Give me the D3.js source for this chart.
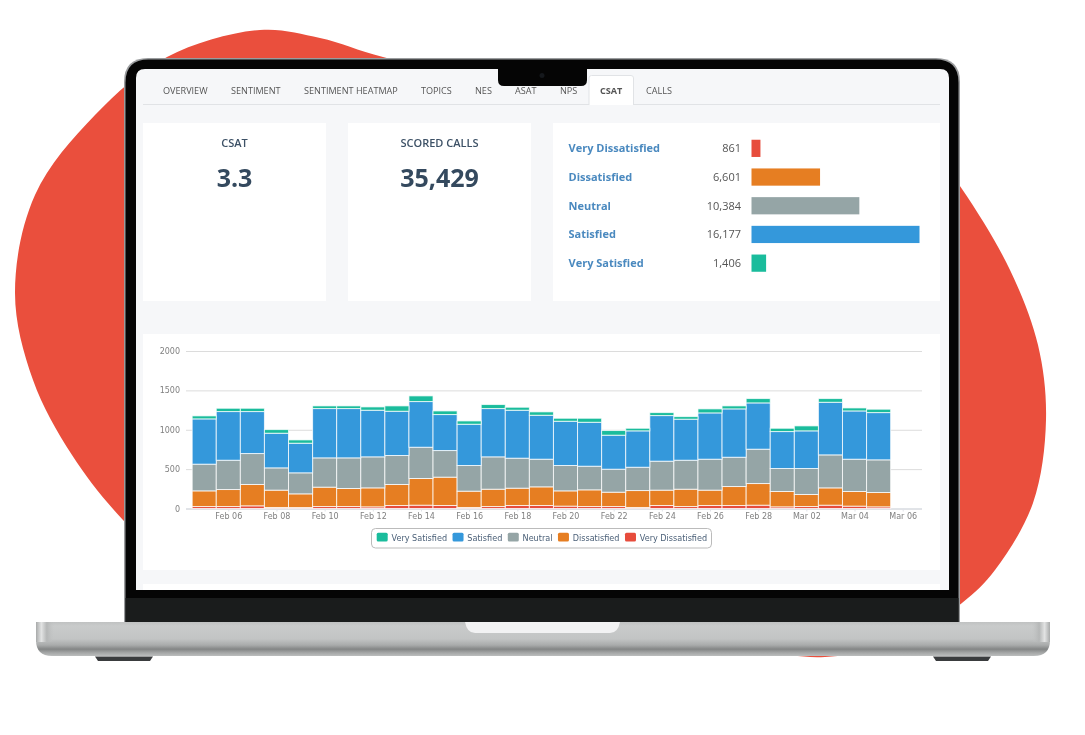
<!DOCTYPE html>
<html>
<head>
<meta charset="utf-8">
<script src="https://cdn.jsdelivr.net/npm/d3@7"></script>
<style>
  body { margin: 0; background: #fff; }
  svg { display: block; font-family: "Open Sans", sans-serif; }
</style>
</head>
<body>
<div id="chart"></div>
<script>
// Daily CSAT counts
const days = ["2023-02-05","2023-02-06","2023-02-07","2023-02-08","2023-02-09","2023-02-10","2023-02-11","2023-02-12","2023-02-13","2023-02-14","2023-02-15","2023-02-16","2023-02-17","2023-02-18","2023-02-19","2023-02-20","2023-02-21","2023-02-22","2023-02-23","2023-02-24","2023-02-25","2023-02-26","2023-02-27","2023-02-28","2023-03-01","2023-03-02","2023-03-03","2023-03-04","2023-03-05"];
const veryDissatisfied = [25,25,34,13,12,25,25,21,38,42,38,13,25,38,38,30,25,25,13,38,25,38,38,42,21,25,42,30,21];
const dissatisfied = [199,216,271,220,174,246,229,241,267,339,360,207,220,220,237,194,212,182,215,195,220,195,241,275,195,153,220,186,182];
const neutral = [339,372,393,283,267,372,389,394,368,397,338,326,411,381,351,322,300,292,296,368,368,393,372,436,292,330,419,410,415];
const satisfied = [575,618,533,440,376,626,626,592,562,580,457,524,613,609,558,562,558,432,462,579,521,588,614,588,469,478,668,613,600];
const verySatisfied = [38,42,42,46,42,34,34,42,68,72,46,42,51,38,43,38,51,59,33,38,33,51,38,55,42,63,47,38,43];

const xTicks = ["2023-02-06","2023-02-08","2023-02-10","2023-02-12","2023-02-14","2023-02-16","2023-02-18","2023-02-20","2023-02-22","2023-02-24","2023-02-26","2023-02-28","2023-03-02","2023-03-04","2023-03-06"];
const yTicks = [0, 500, 1000, 1500, 2000];

const summaryLabels = ["Very Dissatisfied", "Dissatisfied", "Neutral", "Satisfied", "Very Satisfied"];
const summaryValues = [861, 6601, 10384, 16177, 1406];
const summaryColors = ["#e74c3c", "#e67e22", "#95a5a6", "#3498db", "#1abc9c"];

const legendOrder = ["Very Satisfied", "Satisfied", "Neutral", "Dissatisfied", "Very Dissatisfied"];

const tabs = ["OVERVIEW", "SENTIMENT", "SENTIMENT HEATMAP", "TOPICS", "NES", "ASAT", "NPS", "CSAT", "CALLS"];
const tabStarts = [163, 231, 304, 421, 475, 515, 560, 600, 646];

// Outline of the red shape behind the laptop
const blobOutline = [[260,30],[320,38],[383,57],[520,85],[750,85],[905,115],[962,189],[1010,270],[1038,345],[1046,420],[1033,503],[995,570],[962,603],[900,642],[825,657],[750,650],[450,620],[200,590],[123,520],[72,455],[33,380],[15,293],[35,195],[95,115],[167,57]];

const svg = d3.select("#chart").append("svg").attr("width", 1085).attr("height", 735);
const defs = svg.append("defs");

// the screen capture in the reference is a little soft
defs.append("filter").attr("id", "soft").attr("color-interpolation-filters", "sRGB")
  .append("feGaussianBlur").attr("stdDeviation", 0.4);

// red background
svg.append("path")
  .attr("d", d3.line().curve(d3.curveCatmullRomClosed.alpha(0.5))(blobOutline))
  .attr("fill", "#ea4f3d");

// Rounded-top box, used for lid and screen
function topRounded(x, y, w, h, r) {
  return `M${x},${y + h}V${y + r}Q${x},${y} ${x + r},${y}H${x + w - r}Q${x + w},${y} ${x + w},${y + r}V${y + h}Z`;
}

// laptop lid
svg.append("path").attr("d", topRounded(124, 58, 836, 566, 24)).attr("fill", "#9a9c9e");
svg.append("path").attr("d", topRounded(125.5, 59.5, 833, 564, 23)).attr("fill", "#050505");
svg.append("rect").attr("x", 125.5).attr("y", 598).attr("width", 833).attr("height", 24).attr("fill", "#1a1c1c");
svg.append("path").attr("d", topRounded(136, 69, 813, 521, 9)).attr("fill", "#f6f7f9");

const screen = svg.append("g").attr("filter", "url(#soft)");

// Panels
const cards = [[143, 123, 183, 178], [348, 123, 183, 178], [553, 123, 387, 178], [143, 334, 797, 236], [143, 584, 797, 6]];
screen.selectAll("rect.card").data(cards).join("rect")
  .attr("class", "card")
  .attr("x", d => d[0]).attr("y", d => d[1])
  .attr("width", d => d[2]).attr("height", d => d[3])
  .attr("fill", "#fff");

// Tabs
screen.append("line").attr("x1", 143).attr("x2", 940).attr("y1", 104.5).attr("y2", 104.5).attr("stroke", "#e1e3e6");
screen.append("path").attr("d", "M589,105V78Q589,75.5 591.5,75.5H631Q633.5,75.5 633.5,78V105")
  .attr("fill", "#fff").attr("stroke", "#e1e3e6");
screen.selectAll("text.tab").data(tabs).join("text")
  .attr("class", "tab")
  .attr("x", (d, i) => tabStarts[i])
  .attr("y", 94)
  .attr("font-size", 9.1)
  .attr("font-weight", d => d === "CSAT" ? 700 : 400)
  .attr("fill", "#555")
  .text(d => d);

// notch and camera
svg.append("path").attr("d", "M498,69H587V80Q587,86 581,86H504Q498,86 498,80Z").attr("fill", "#050505");
svg.append("circle").attr("cx", 542).attr("cy", 75.5).attr("r", 2.5).attr("fill", "#15181c");

// Headline numbers
const headline = [["CSAT", "3.3", 234.5], ["SCORED CALLS", "35,429", 439.5]];
headline.forEach(h => {
  screen.append("text").attr("x", h[2]).attr("y", 147).attr("text-anchor", "middle")
    .attr("font-size", 11).attr("font-weight", 600).attr("fill", "#3d5166").text(h[0]);
  screen.append("text").attr("x", h[2]).attr("y", 187).attr("text-anchor", "middle")
    .attr("font-size", 25).attr("font-weight", 700).attr("fill", "#34495e").text(h[1]);
});

// Summary bars
const sx = d3.scaleLinear().domain([0, d3.max(summaryValues)]).range([751.5, 919.5]);
const sy = d3.scaleBand().domain(summaryLabels).range([134, 277.5]).paddingInner(0.4).paddingOuter(0.2);
const row = screen.append("g").selectAll("g").data(summaryLabels).join("g");
row.append("text")
  .attr("x", 568.5)
  .attr("y", d => sy(d) + sy.bandwidth() / 2 + 4)
  .attr("font-size", 11).attr("font-weight", 700).attr("fill", "#4a89bf")
  .text(d => d);
row.append("text")
  .attr("x", 741)
  .attr("y", d => sy(d) + sy.bandwidth() / 2 + 4)
  .attr("text-anchor", "end")
  .attr("font-size", 11).attr("fill", "#555")
  .text((d, i) => d3.format(",")(summaryValues[i]));
row.append("rect")
  .attr("x", sx(0))
  .attr("y", d => sy(d))
  .attr("width", (d, i) => sx(summaryValues[i]) - sx(0))
  .attr("height", sy.bandwidth())
  .attr("fill", (d, i) => summaryColors[i]);

// Stacked chart
const parse = d3.utcParse("%Y-%m-%d");
const table = days.map((d, i) => ({
  date: parse(d),
  "Very Dissatisfied": veryDissatisfied[i],
  "Dissatisfied": dissatisfied[i],
  "Neutral": neutral[i],
  "Satisfied": satisfied[i],
  "Very Satisfied": verySatisfied[i],
}));

const plotLeft = 186, plotRight = 922;
const x = d3.scaleUtc().domain([parse("2023-02-06"), parse("2023-03-06")]).range([228.3, 902.7]);
const y = d3.scaleLinear().domain([0, 2000]).range([508.5, 351]);
const barWidth = x(parse("2023-02-07")) - x(parse("2023-02-06"));

// Y axis with gridlines
const yAxis = screen.append("g")
  .attr("transform", `translate(${plotLeft},0)`)
  .call(d3.axisLeft(y).tickValues(yTicks).tickFormat(d3.format("d")).tickSize(0).tickPadding(6));
yAxis.select(".domain").remove();
yAxis.selectAll("text").attr("font-family", "'DejaVu Sans'").attr("font-size", 8).attr("fill", "#808080");
yAxis.selectAll(".tick line").attr("x2", plotRight - plotLeft).attr("stroke", "#dcdcdc");

const xAxis = screen.append("g")
  .attr("transform", "translate(0,508.5)")
  .call(d3.axisBottom(x).tickValues(xTicks.map(parse)).tickFormat(d3.utcFormat("%b %d")).tickSize(3).tickPadding(2));
xAxis.select(".domain").attr("d", `M${plotLeft},0.5H${plotRight}`).attr("stroke", "#d5dae2");
xAxis.selectAll(".tick line").attr("stroke", "#e0e3e8");
xAxis.selectAll("text").attr("font-family", "'DejaVu Sans'").attr("font-size", 8).attr("fill", "#808080");

const stacked = d3.stack().keys(summaryLabels)(table);
screen.append("g").selectAll("g").data(stacked).join("g")
  .attr("fill", (d, i) => summaryColors[i])
  .selectAll("rect").data(d => d).join("rect")
  .attr("x", d => x(d.data.date) - barWidth / 2)
  .attr("y", d => y(d[1]))
  .attr("width", barWidth)
  .attr("height", d => y(d[0]) - y(d[1]))
  .attr("stroke", "#fff")
  .attr("stroke-opacity", 0.75)
  .attr("stroke-width", 1);

// Legend
const legend = screen.append("g");
legend.append("rect").attr("x", 371.5).attr("y", 528.5).attr("width", 340).attr("height", 19.5).attr("rx", 4)
  .attr("fill", "#fff").attr("stroke", "#bbb");
let legendX = 376.7;
legendOrder.forEach(name => {
  legend.append("rect").attr("x", legendX).attr("y", 532.7).attr("width", 11).attr("height", 8.7).attr("rx", 1.5)
    .attr("fill", summaryColors[summaryLabels.indexOf(name)]);
  const label = legend.append("text").attr("x", legendX + 14.8).attr("y", 541)
    .attr("font-family", "'DejaVu Sans'").attr("font-size", 8.1).attr("fill", "#4b6078").text(name);
  legendX += 14.8 + label.node().getComputedTextLength() + 5.5;
});

// laptop base
const baseGrad = defs.append("linearGradient").attr("id", "base").attr("x1", 0).attr("x2", 0).attr("y1", 0).attr("y2", 1);
[[0, "#bfc1c1"], [0.12, "#c9cbcb"], [0.5, "#c2c4c4"], [0.68, "#a9abab"], [0.8, "#838585"], [0.9, "#a3a5a5"], [1, "#bcbebe"]]
  .forEach(s => baseGrad.append("stop").attr("offset", s[0]).attr("stop-color", s[1]));
const endGrad = defs.append("linearGradient").attr("id", "baseEnd").attr("x1", 0).attr("x2", 1).attr("y1", 0).attr("y2", 0);
[[0, "#a8aaaa", 1], [0.3, "#e2e3e3", 1], [0.6, "#b5b7b7", 1], [1, "#c0c2c2", 0]]
  .forEach(s => endGrad.append("stop").attr("offset", s[0]).attr("stop-color", s[1]).attr("stop-opacity", s[2]));
svg.append("path").attr("d", "M36,622H1050V640Q1050,656 1034,656H52Q36,656 36,640Z").attr("fill", "url(#base)");
svg.append("rect").attr("x", 36).attr("y", 622).attr("width", 18).attr("height", 20).attr("fill", "url(#baseEnd)");
svg.append("rect").attr("x", -1050).attr("y", 622).attr("width", 18).attr("height", 20).attr("fill", "url(#baseEnd)").attr("transform", "scale(-1,1)");
svg.append("path").attr("d", "M465,622H620Q618,633 610,633H475Q467,633 465,622Z").attr("fill", "#f2f2f3");

// feet
[[95, 153], [933, 991]].forEach(f => {
  svg.append("path").attr("d", `M${f[0]},656.5H${f[1]}L${f[1] - 3},661H${f[0] + 3}Z`).attr("fill", "#3a3c3e");
});
</script>
</body>
</html>
